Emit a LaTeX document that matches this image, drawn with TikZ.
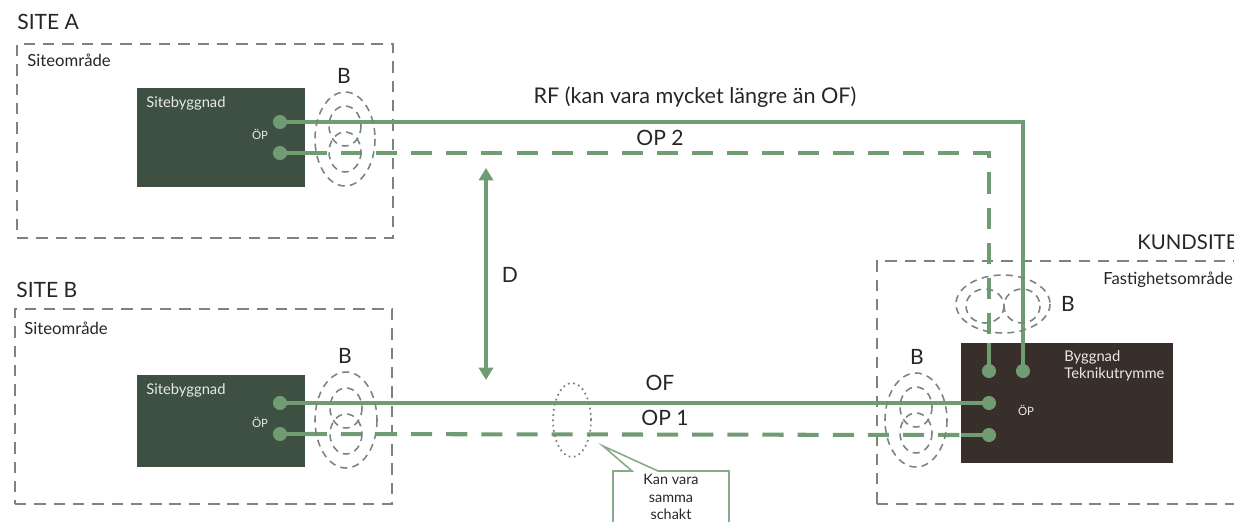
\documentclass[tikz,border=0pt]{standalone}
\usepackage{fontspec}
\setmainfont{Lato}
\usepackage{tikz}
\usetikzlibrary{arrows.meta,positioning,calc,shapes.geometric}
\definecolor{linegreen}{RGB}{112,156,116}
\definecolor{sitegreen}{RGB}{62,80,66}
\definecolor{kundbrown}{RGB}{56,47,42}
\definecolor{areagray}{RGB}{120,134,125}
\definecolor{txtgray}{RGB}{38,38,38}

\begin{document}
\begin{tikzpicture}[x=0.02cm, y=-0.02cm,
  every node/.style={font=\fontsize{12}{14}\selectfont, text=txtgray, inner sep=0pt},
  area/.style={draw=areagray, line width=1pt, dash pattern=on 6.5pt off 4.5pt, anchor=north west},
  house/.style={anchor=north west},
  port/.style={circle, fill=linegreen, minimum size=8pt},
  fiber/.style={draw=linegreen, line width=2.3pt},
  spare/.style={fiber, dash pattern=on 12pt off 8pt},
  bund/.style={draw=areagray, line width=0.9pt, dash pattern=on 4pt off 3pt},
  small/.style={font=\fontsize{9.5}{11}\selectfont},
  note/.style={font=\fontsize{8.2}{10}\selectfont},
  inner/.style={font=\fontsize{8.4}{9.8}\selectfont, text=white!88!sitegreen},
  tiny/.style={font=\fontsize{6.5}{8}\selectfont, text=white!88!sitegreen},
  callout/.style={draw=linegreen!85, line width=0.9pt}]
  \useasboundingbox (0,0) rectangle (1234,521);
  \clip (0,0) rectangle (1234,521);

  % SITE A
  \node[anchor=west] (titleA) at (17,22) {SITE A};
  \node[area, minimum width=7.52cm, minimum height=3.88cm] (areaA) at (16,43) {};
  \node[small, anchor=west] (omrA) at (27,60) {Siteområde};
  \node[house, fill=sitegreen, minimum width=3.36cm, minimum height=1.98cm] (houseA) at (137,88) {};
  \node[inner, anchor=west] (nameA) at (146,103) {Sitebyggnad};
  \node[tiny] (opA) at (260,134) {ÖP};

  % SITE B
  \node[anchor=west] (titleB) at (16,290) {SITE B};
  \node[area, minimum width=7.54cm, minimum height=3.9cm] (areaB) at (14,308) {};
  \node[small, anchor=west] (omrB) at (24,328) {Siteområde};
  \node[house, fill=sitegreen, minimum width=3.36cm, minimum height=1.84cm] (houseB) at (137,375) {};
  \node[inner, anchor=west] (nameB) at (146,390) {Sitebyggnad};
  \node[tiny] (opB) at (260,422) {ÖP};

  % KUNDSITE
  \node[anchor=west, font=\fontsize{11.6}{14}\selectfont] (titleK) at (1137,242) {KUNDSITE};
  \node[area, minimum width=8.4cm, minimum height=4.86cm] (areaK) at (876,260) {};
  \node[small, anchor=west] (omrK) at (1103,280) {Fastighetsområde};
  \node[house, fill=kundbrown, minimum width=4.24cm, minimum height=2.4cm] (houseK) at (961,343) {};
  \node[inner, anchor=north west, align=left] (nameK) at (1064,350) {Byggnad\\Teknikutrymme};
  \node[tiny] (opK) at (1026,410) {ÖP};

  % anslutningspunkter
  \node[port] (a1) at (280,122) {};
  \node[port] (a2) at (280,153) {};
  \node[port] (b1) at (280,403) {};
  \node[port] (b2) at (280,434) {};
  \node[port] (k1) at (989,371) {};
  \node[port] (k2) at (1023,371) {};
  \node[port] (k3) at (989,403) {};
  \node[port] (k4) at (989,435) {};

  % RF och OP 2
  \draw[fiber] (a1.center) -- (a1.center -| k2.center) -- (k2.center);
  \draw[fiber] (a2.center) -- (houseA.east |- a2.center);
  \draw[spare] (houseA.east |- a2.center) -- (a2.center -| k1.center) -- (k1.center |- houseK.north);
  \draw[fiber] (k1.center |- houseK.north) -- (k1.center);
  \node[font=\fontsize{12.3}{14}\selectfont] (rf) at (695,97) {RF (kan vara mycket längre än OF)};
  \node (op2) at (660,138) {OP 2};

  % OF och OP 1
  \draw[fiber] (b1.center) -- (k3.center);
  \draw[fiber] (b2.center) -- (houseB.east |- b2.center);
  \draw[spare] (houseB.east |- b2.center) -- (houseK.west |- k4.center);
  \draw[fiber] (houseK.west |- k4.center) -- (k4.center);
  \node (of) at (660,383) {OF};
  \node (op1) at (665,418) {OP 1};

  % avstånd D
  \coordinate (dtop) at (486,168);
  \coordinate (dbot) at (486,380);
  \draw[fiber, {Triangle[width=8pt,length=7pt]}-{Triangle[width=8pt,length=7pt]}] (dtop) -- (dbot);
  \node (dlbl) at (510,275) {D};

  % kabelbuntar B
  \draw[bund] (345,139) ellipse [x radius=30, y radius=47];
  \draw[bund] (345,126) ellipse [x radius=16, y radius=20];
  \draw[bund] (345,152) ellipse [x radius=16, y radius=20];
  \node (bA) at (344,76) {B};
  \draw[bund] (346,420) ellipse [x radius=31, y radius=48];
  \draw[bund] (346,408) ellipse [x radius=16, y radius=20];
  \draw[bund] (346,434) ellipse [x radius=16, y radius=20];
  \node (bB) at (345,356) {B};
  \draw[bund] (916,420) ellipse [x radius=31, y radius=47];
  \draw[bund] (916,407) ellipse [x radius=16, y radius=20];
  \draw[bund] (916,433) ellipse [x radius=16, y radius=20];
  \node (bK1) at (917,357) {B};
  \draw[bund] (1003,304) ellipse [x radius=47, y radius=29];
  \draw[bund] (985,306) ellipse [x radius=19, y radius=17];
  \draw[bund] (1022,306) ellipse [x radius=18, y radius=17];
  \node (bK2) at (1068,304) {B};

  % samma schakt
  \node[ellipse, draw=areagray, dotted, line width=1pt, minimum width=0.76cm, minimum height=1.48cm] (shaft) at (572,420) {};
  \coordinate (tip) at (603,446);
  \draw[callout] (613,540) |- (632,471) -- (tip) -- (658,471) -| (729,540);
  \node[note, align=center, anchor=north] (notetxt) at (671,474) {Kan vara\\samma\\schakt};
\end{tikzpicture}
\end{document}
